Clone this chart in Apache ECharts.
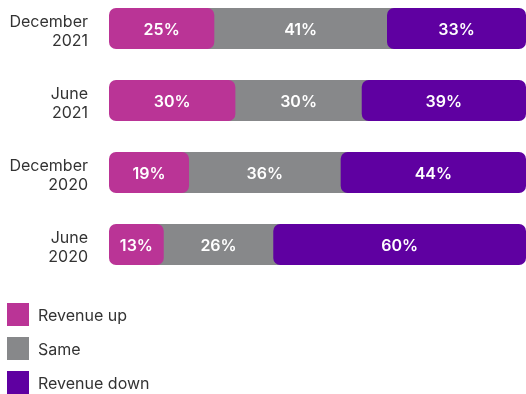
<!DOCTYPE html>
<html>
<head>
<meta charset="utf-8">
<script src="https://cdn.jsdelivr.net/npm/echarts@6/dist/echarts.min.js"></script>
<style>
  html, body { margin: 0; padding: 0; background: #fff; }
  #chart { width: 526px; height: 394px; }
</style>
</head>
<body>
<div id="chart"></div>
<script>
// Survey periods, top to bottom
const periods = ['December\n2021', 'June\n2021', 'December\n2020', 'June\n2020'];
// Share of respondents (%)
const revenueUp = [25, 30, 19, 13];
const same = [41, 30, 36, 26];
const revenueDown = [33, 39, 44, 60];

const COLOR_UP = '#BA3496';
const COLOR_SAME = '#87888A';
const COLOR_DOWN = '#5F00A1';
const RADIUS = 7;
const FONT = 'Inter, "Noto Sans", sans-serif';

// The grey band sits behind the coloured ends so it shows through their rounded corners
const bgLead = revenueUp.map(v => v / 2);
const bgSpan = same.map((v, i) => revenueUp[i] / 2 + v + revenueDown[i] / 2);

const valueLabel = {
  show: true,
  position: 'inside',
  offset: [0, 2],
  color: '#fff',
  fontFamily: FONT,
  fontSize: 16,
  fontWeight: 600,
  formatter: p => p.value + '%'
};

// A thin spacer line above the text nudges multi-line labels slightly downward
const nudged = text => '{s| }\n' + text.split('\n').map(s => '{t|' + s + '}').join('\n');

const chart = echarts.init(document.getElementById('chart'), null, { renderer: 'canvas' });
chart.setOption({
  animation: false,
  legend: {
    data: ['Revenue up', 'Same', 'Revenue down'],
    orient: 'vertical',
    left: 7,
    top: 303,
    padding: 0,
    icon: 'rect',
    itemWidth: 22,
    itemHeight: 23,
    itemGap: 11,
    selectedMode: false,
    formatter: name => nudged(name),
    textStyle: {
      fontFamily: FONT, fontSize: 16, color: '#333', padding: [0, 0, 0, 4],
      rich: {
        s: { fontSize: 1, lineHeight: 4 },
        t: { fontFamily: FONT, fontSize: 16, color: '#333', lineHeight: 19 }
      }
    }
  },
  grid: {
    left: 109, right: 0, top: -7.5, height: 288,
    outerBoundsMode: 'none', containLabel: false
  },
  xAxis: { type: 'value', min: 0, max: 99, show: false },
  yAxis: {
    type: 'category',
    data: periods,
    inverse: true,
    axisLine: { show: false },
    axisTick: { show: false },
    splitLine: { show: false },
    axisLabel: {
      margin: 21,
      fontFamily: FONT,
      fontSize: 16,
      color: '#333',
      align: 'right',
      formatter: v => nudged(v),
      rich: {
        s: { fontSize: 1, lineHeight: 7, align: 'right' },
        t: { fontFamily: FONT, fontSize: 16, color: '#333', lineHeight: 19, align: 'right' }
      }
    }
  },
  series: [
    {
      name: 'lead', type: 'bar', stack: 'bg', barWidth: 41, barGap: '-100%',
      itemStyle: { color: 'transparent' }, silent: true, data: bgLead
    },
    {
      name: 'Same', type: 'bar', stack: 'bg', barWidth: 41, barGap: '-100%',
      itemStyle: { color: COLOR_SAME }, data: bgSpan
    },
    {
      name: 'Revenue up', type: 'bar', stack: 'fg', barWidth: 41, barGap: '-100%',
      itemStyle: { color: COLOR_UP, borderRadius: RADIUS },
      label: valueLabel, data: revenueUp
    },
    {
      name: 'sameLabel', type: 'bar', stack: 'fg', barWidth: 41, barGap: '-100%',
      itemStyle: { color: 'transparent' },
      label: valueLabel, data: same
    },
    {
      name: 'Revenue down', type: 'bar', stack: 'fg', barWidth: 41, barGap: '-100%',
      itemStyle: { color: COLOR_DOWN, borderRadius: RADIUS },
      label: valueLabel, data: revenueDown
    }
  ]
});
</script>
</body>
</html>
